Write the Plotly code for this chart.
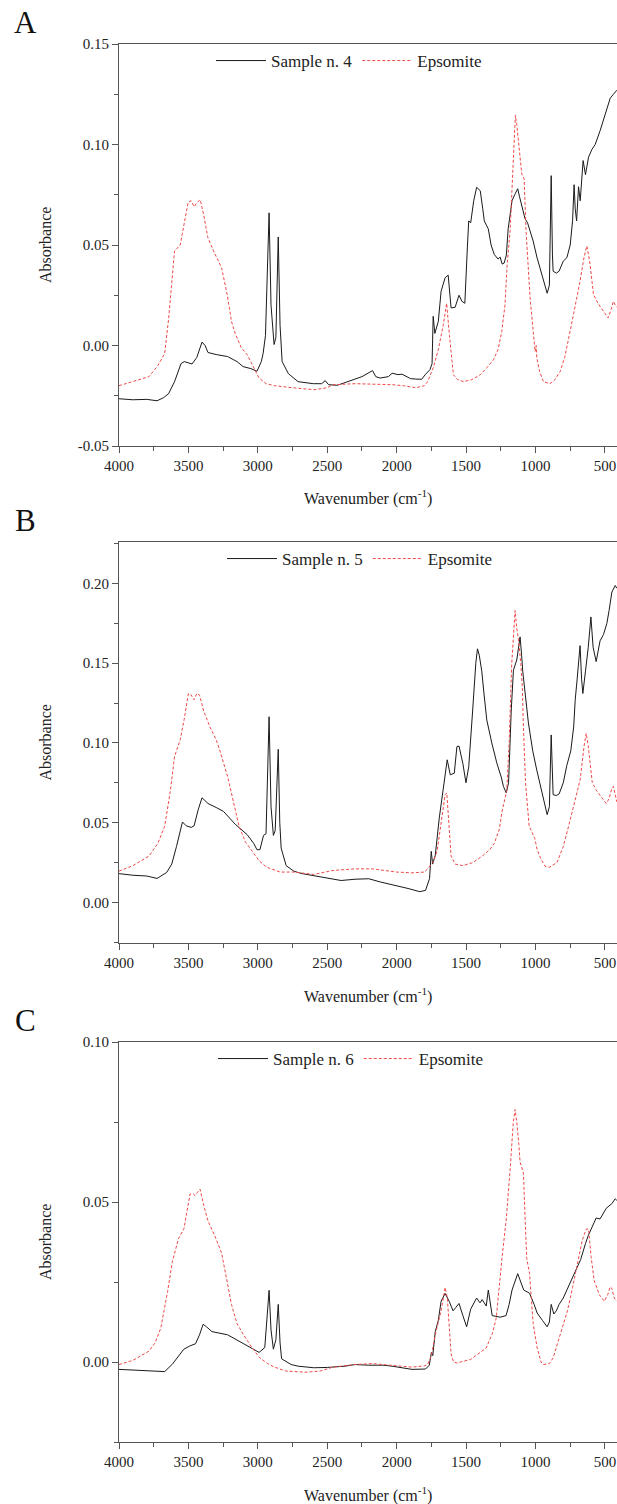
import plotly.graph_objects as go
from plotly.subplots import make_subplots

# ---- Panel A: Sample n. 4 vs Epsomite ----
wn_a_sample = [4000, 3900, 3800, 3726, 3680, 3643, 3600, 3553, 3530, 3474, 3440, 3402, 3380, 3359,
               3300, 3218, 3150, 3106, 3050, 3006, 2975, 2962, 2945, 2930, 2919, 2905, 2883, 2870,
               2860, 2853, 2840, 2825, 2780, 2710, 2600, 2540, 2515, 2490, 2428, 2350, 2250, 2174,
               2150, 2119, 2060, 2033, 1990, 1961, 1900, 1862, 1820, 1792, 1760, 1745, 1737, 1725,
               1700, 1680, 1651, 1629, 1608, 1579, 1551, 1530, 1509, 1490, 1481, 1467, 1445, 1424,
               1398, 1380, 1369, 1340, 1320, 1297, 1270, 1255, 1240, 1226, 1210, 1197, 1169, 1150,
               1128, 1115, 1100, 1075, 1057, 1017, 990, 960, 935, 916, 900, 887, 878, 873, 850, 830,
               800, 774, 750, 733, 722, 714, 704, 690, 678, 657, 640, 618, 594, 570, 534, 498, 462,
               439, 414]
ab_a_sample = [-0.0265, -0.027, -0.0268, -0.0275, -0.026, -0.024, -0.018, -0.009, -0.008, -0.0092,
               -0.006, 0.0017, 0.0, -0.0035, -0.0045, -0.0055, -0.008, -0.0105, -0.0115, -0.0128,
               -0.008, -0.004, 0.005, 0.035, 0.066, 0.02, 0.0005, 0.004, 0.03, 0.054, 0.01, -0.008,
               -0.014, -0.018, -0.019, -0.019, -0.0175, -0.0195, -0.0198, -0.018, -0.0155, -0.0125,
               -0.0155, -0.0162, -0.0155, -0.0138, -0.0145, -0.0143, -0.0165, -0.0167, -0.0168,
               -0.0143, -0.012, -0.009, 0.0145, 0.006, 0.012, 0.027, 0.0337, 0.035, 0.0187, 0.019,
               0.025, 0.022, 0.021, 0.05, 0.062, 0.061, 0.072, 0.0787, 0.077, 0.068, 0.062, 0.058,
               0.05, 0.0453, 0.043, 0.044, 0.0405, 0.041, 0.045, 0.058, 0.072, 0.075, 0.078, 0.074,
               0.070, 0.063, 0.061, 0.052, 0.044, 0.037, 0.031, 0.026, 0.03, 0.0845, 0.045, 0.037,
               0.036, 0.037, 0.042, 0.0437, 0.05, 0.062, 0.08, 0.068, 0.062, 0.079, 0.072, 0.092,
               0.085, 0.0937, 0.0975, 0.100, 0.107, 0.115, 0.123, 0.125, 0.127]

wn_a_epso = [4000, 3900, 3784, 3720, 3671, 3642, 3600, 3559, 3530, 3502, 3480, 3459, 3440, 3415,
             3390, 3360, 3319, 3290, 3261, 3220, 3190, 3163, 3120, 3077, 3030, 2991, 2940, 2880,
             2750, 2597, 2500, 2458, 2300, 2150, 2033, 1950, 1862, 1800, 1777, 1736, 1700, 1665,
             1640, 1620, 1600, 1591, 1560, 1519, 1460, 1399, 1350, 1303, 1270, 1243, 1220, 1204,
             1183, 1159, 1145, 1135, 1124, 1110, 1099, 1082, 1068, 1039, 1020, 1003, 995, 991, 970,
             943, 895, 860, 823, 790, 751, 715, 679, 650, 630, 610, 582, 550, 522, 477, 455, 439,
             425, 414]
ab_a_epso = [-0.020, -0.018, -0.0155, -0.010, -0.004, 0.0137, 0.047, 0.05, 0.06, 0.0712, 0.072,
             0.069, 0.071, 0.0725, 0.065, 0.0537, 0.047, 0.043, 0.0387, 0.025, 0.012, 0.006,
             -0.001, -0.0045, -0.011, -0.0162, -0.019, -0.020, -0.021, -0.022, -0.021, -0.0195,
             -0.019, -0.0192, -0.0195, -0.020, -0.021, -0.020, -0.018, -0.011, -0.002, 0.010,
             0.021, 0.005, -0.008, -0.0146, -0.017, -0.018, -0.017, -0.0146, -0.011, -0.0071,
             -0.002, 0.007, 0.02, 0.0404, 0.057, 0.0987, 0.1145, 0.110, 0.102, 0.090, 0.0854,
             0.083, 0.057, 0.0237, 0.008, -0.003, 0.0, -0.006, -0.013, -0.018, -0.019, -0.017,
             -0.013, -0.006, 0.007, 0.019, 0.032, 0.044, 0.0495, 0.042, 0.0253, 0.021, 0.018,
             0.0137, 0.018, 0.022, 0.020, 0.019]

# ---- Panel B: Sample n. 5 vs Epsomite ----
wn_b_sample = [4000, 3900, 3800, 3726, 3657, 3620, 3586, 3560, 3543, 3516, 3480, 3459, 3430, 3402,
               3359, 3300, 3247, 3163, 3077, 3030, 3006, 2985, 2959, 2941, 2930, 2919, 2905, 2888,
               2875, 2862, 2853, 2842, 2832, 2796, 2740, 2681, 2600, 2512, 2400, 2300, 2201, 2119,
               2000, 1918, 1834, 1792, 1763, 1751, 1741, 1722, 1693, 1660, 1636, 1614, 1585, 1566,
               1551, 1523, 1501, 1481, 1465, 1453, 1430, 1418, 1405, 1387, 1370, 1351, 1315, 1279,
               1245, 1231, 1211, 1194, 1175, 1159, 1135, 1111, 1100, 1092, 1051, 1020, 991, 960,
               931, 916, 900, 887, 873, 850, 830, 800, 774, 746, 725, 714, 700, 679, 668, 659, 640,
               620, 601, 585, 563, 535, 510, 486, 470, 450, 426, 414]
ab_b_sample = [0.018, 0.017, 0.0165, 0.015, 0.0187, 0.024, 0.035, 0.045, 0.0504, 0.048, 0.047,
               0.048, 0.058, 0.0656, 0.062, 0.0595, 0.057, 0.049, 0.0425, 0.037, 0.033, 0.033,
               0.042, 0.043, 0.08, 0.1164, 0.06, 0.042, 0.045, 0.08, 0.096, 0.05, 0.034, 0.023,
               0.0195, 0.018, 0.0168, 0.0158, 0.0137, 0.0145, 0.0148, 0.0128, 0.0105, 0.0087,
               0.0067, 0.0075, 0.015, 0.032, 0.024, 0.0295, 0.053, 0.075, 0.0894, 0.080, 0.081,
               0.0977, 0.098, 0.087, 0.075, 0.085, 0.108, 0.12, 0.150, 0.159, 0.155, 0.145, 0.13,
               0.1144, 0.100, 0.0875, 0.078, 0.0727, 0.0687, 0.075, 0.12, 0.1456, 0.152, 0.1665,
               0.155, 0.145, 0.1125, 0.095, 0.083, 0.072, 0.060, 0.055, 0.06, 0.105, 0.0675, 0.067,
               0.068, 0.075, 0.086, 0.095, 0.11, 0.127, 0.14, 0.161, 0.14, 0.131, 0.145, 0.16,
               0.179, 0.16, 0.151, 0.164, 0.168, 0.175, 0.183, 0.1946, 0.1987, 0.197]

wn_b_epso = [4000, 3900, 3784, 3720, 3671, 3630, 3600, 3559, 3530, 3500, 3480, 3460, 3440, 3420,
             3390, 3345, 3300, 3275, 3218, 3170, 3135, 3090, 3049, 2990, 2936, 2839, 2739, 2597,
             2458, 2300, 2174, 2000, 1890, 1800, 1777, 1740, 1709, 1680, 1651, 1639, 1625, 1608,
             1579, 1523, 1450, 1384, 1330, 1297, 1260, 1240, 1207, 1190, 1171, 1147, 1135, 1123,
             1106, 1095, 1087, 1072, 1046, 1017, 1005, 988, 960, 931, 900, 845, 800, 761, 720,
             678, 650, 635, 620, 591, 560, 534, 491, 470, 452, 439, 425, 414]
ab_b_epso = [0.0196, 0.023, 0.029, 0.037, 0.0477, 0.07, 0.0915, 0.102, 0.115, 0.131, 0.13, 0.127,
             0.131, 0.13, 0.12, 0.110, 0.102, 0.0956, 0.079, 0.06, 0.0477, 0.038, 0.033, 0.026,
             0.022, 0.019, 0.019, 0.0175, 0.020, 0.021, 0.021, 0.019, 0.0185, 0.019, 0.021,
             0.025, 0.032, 0.05, 0.0675, 0.0686, 0.05, 0.029, 0.024, 0.023, 0.025, 0.029, 0.033,
             0.037, 0.046, 0.0575, 0.07, 0.1, 0.15, 0.183, 0.172, 0.165, 0.15, 0.135, 0.11,
             0.075, 0.048, 0.0425, 0.040, 0.033, 0.027, 0.0227, 0.022, 0.025, 0.035, 0.048,
             0.062, 0.077, 0.098, 0.106, 0.098, 0.075, 0.07, 0.067, 0.062, 0.065, 0.071, 0.0727,
             0.066, 0.063]

# ---- Panel C: Sample n. 6 vs Epsomite ----
wn_c_sample = [4000, 3900, 3800, 3671, 3616, 3570, 3533, 3490, 3449, 3420, 3394, 3370, 3331, 3218,
               3150, 3106, 3040, 2991, 2950, 2935, 2919, 2905, 2888, 2870, 2853, 2840, 2829, 2760,
               2710, 2597, 2500, 2372, 2300, 2201, 2100, 2033, 1950, 1890, 1792, 1765, 1750, 1740,
               1722, 1700, 1680, 1651, 1622, 1594, 1575, 1551, 1523, 1496, 1467, 1424, 1400, 1384,
               1355, 1340, 1312, 1255, 1212, 1190, 1169, 1128, 1085, 1043, 1010, 988, 950, 916, 900,
               887, 868, 850, 830, 800, 774, 718, 675, 640, 620, 563, 535, 491, 450, 426, 414]
ab_c_sample = [-0.0023, -0.0025, -0.0028, -0.003, -0.0007, 0.002, 0.004, 0.005, 0.0057, 0.0085,
               0.0118, 0.011, 0.0095, 0.0085, 0.007, 0.0058, 0.0042, 0.003, 0.0045, 0.012, 0.0224,
               0.01, 0.004, 0.007, 0.018, 0.006, 0.001, -0.0008, -0.0013, -0.0018, -0.0017,
               -0.0013, -0.0008, -0.001, -0.001, -0.0013, -0.0018, -0.0023, -0.0022, -0.001,
               0.003, 0.002, 0.0095, 0.013, 0.019, 0.0214, 0.019, 0.016, 0.017, 0.0183, 0.0145,
               0.011, 0.0165, 0.020, 0.0185, 0.0195, 0.0175, 0.0225, 0.0145, 0.014, 0.0145, 0.018,
               0.0225, 0.0276, 0.0225, 0.0215, 0.018, 0.0153, 0.013, 0.011, 0.0125, 0.018, 0.015,
               0.016, 0.018, 0.020, 0.0225, 0.028, 0.032, 0.037, 0.0395, 0.045, 0.0447, 0.048,
               0.0495, 0.051, 0.0505]

wn_c_epso = [4000, 3900, 3784, 3740, 3699, 3650, 3616, 3572, 3532, 3500, 3488, 3465, 3453, 3435,
             3416, 3390, 3359, 3303, 3261, 3225, 3190, 3150, 3106, 3050, 2991, 2930, 2880, 2800,
             2653, 2550, 2458, 2300, 2174, 2050, 1890, 1800, 1777, 1750, 1721, 1680, 1651, 1635,
             1620, 1608, 1590, 1566, 1467, 1400, 1355, 1310, 1283, 1240, 1210, 1183, 1160, 1147,
             1135, 1120, 1111, 1100, 1087, 1075, 1063, 1043, 1017, 988, 960, 945, 900, 873, 815,
             770, 733, 690, 664, 635, 618, 600, 577, 540, 505, 480, 462, 450, 433, 414]
ab_c_epso = [-0.0008, 0.0005, 0.0034, 0.006, 0.0106, 0.022, 0.0313, 0.0385, 0.0417, 0.050, 0.0525,
             0.0525, 0.052, 0.053, 0.054, 0.049, 0.0441, 0.0387, 0.034, 0.026, 0.018, 0.012,
             0.0087, 0.005, 0.0015, -0.0005, -0.0016, -0.0028, -0.0032, -0.0028, -0.0016,
             -0.0008, -0.0005, -0.001, -0.0016, -0.0012, -0.0008, 0.002, 0.0087, 0.016, 0.0233,
             0.02, 0.01, 0.0025, 0.0, -0.0003, 0.0008, 0.003, 0.0044, 0.009, 0.0137, 0.033, 0.045,
             0.06, 0.075, 0.0789, 0.075, 0.068, 0.0624, 0.061, 0.059, 0.045, 0.0323, 0.0277,
             0.012, 0.0044, 0.0, -0.0008, -0.0005, 0.0013, 0.0096, 0.016, 0.0233, 0.032, 0.0379,
             0.0415, 0.0416, 0.033, 0.0254, 0.021, 0.019, 0.021, 0.0235, 0.023, 0.020, 0.019]

sample_names = ["Sample n. 4", "Sample n. 5", "Sample n. 6"]
panel_letters = ["A", "B", "C"]
x_tickvals = [4000, 3500, 3000, 2500, 2000, 1500, 1000, 500]
x_ticktext = ["4000", "3500", "3000", "2500", "2000", "1500", "1000", "500"]
y_ticks_a = [-0.05, 0.0, 0.05, 0.10, 0.15]
y_ticks_b = [0.0, 0.05, 0.10, 0.15, 0.20]
y_ticks_c = [0.0, 0.05, 0.10]

W, H = 617, 1504
FONT = "Liberation Serif"
AXIS_COL = "#555555"


def py(pixel_y):
    # pixel row -> paper coordinate
    return 1 - pixel_y / H


panels = [
    dict(wn_s=wn_a_sample, ab_s=ab_a_sample, wn_e=wn_a_epso, ab_e=ab_a_epso,
         yr=[-0.05, 0.15], yt=y_ticks_a, top=44, bot=446, leg_x=211),
    dict(wn_s=wn_b_sample, ab_s=ab_b_sample, wn_e=wn_b_epso, ab_e=ab_b_epso,
         yr=[-0.0255, 0.226], yt=y_ticks_b, top=542, bot=943, leg_x=222),
    dict(wn_s=wn_c_sample, ab_s=ab_c_sample, wn_e=wn_c_epso, ab_e=ab_c_epso,
         yr=[-0.025, 0.10], yt=y_ticks_c, top=1042, bot=1442, leg_x=213),
]

fig = make_subplots(rows=3, cols=1)
annotations = []
legend_style = dict(orientation="h", xanchor="left", yanchor="middle", bgcolor="rgba(0,0,0,0)",
                    font=dict(family=FONT, size=17, color="#222"), itemwidth=50,
                    tracegroupgap=0)
legends = {}

for i, p in enumerate(panels):
    r = i + 1
    leg = "legend" if i == 0 else "legend%d" % r
    legends[leg] = dict(legend_style, x=(p["leg_x"] - 119) / 498, y=py(p["top"] + 17))
    fig.add_trace(
        go.Scatter(x=p["wn_s"], y=p["ab_s"], mode="lines", name=sample_names[i],
                   line=dict(color="#1a1a1a", width=1), legend=leg),
        row=r, col=1,
    )
    fig.add_trace(
        go.Scatter(x=p["wn_e"], y=p["ab_e"], mode="lines", name="Epsomite",
                   line=dict(color="#f04848", width=1, dash="3px,2px"), legend=leg),
        row=r, col=1,
    )

    fig.update_xaxes(
        range=[4000, 413], tickmode="array", tickvals=x_tickvals, ticktext=x_ticktext,
        ticks="outside", ticklen=6, tickcolor=AXIS_COL, showline=True, linecolor=AXIS_COL,
        linewidth=1, mirror=True, showgrid=False, zeroline=False, automargin=False,
        tickfont=dict(family=FONT, size=15, color="#222"),
        minor=dict(ticks="outside", ticklen=4, dtick=250, tick0=0, tickcolor=AXIS_COL),
        domain=[0, 1], row=r, col=1,
    )
    fig.update_yaxes(
        range=p["yr"], tickmode="array", tickvals=p["yt"],
        ticktext=["%.2f" % v for v in p["yt"]],
        ticks="outside", ticklen=6, tickcolor=AXIS_COL, showline=True, linecolor=AXIS_COL,
        linewidth=1, mirror=False, showgrid=False, zeroline=False, automargin=False,
        tickfont=dict(family=FONT, size=15, color="#222"),
        minor=dict(ticks="outside", ticklen=4, dtick=0.025, tick0=0, tickcolor=AXIS_COL),
        domain=[py(p["bot"]), py(p["top"])],
        row=r, col=1,
    )

    annotations.append(dict(text=panel_letters[i], xref="paper", yref="paper",
                            x=(25 - 119) / 498, y=py(p["top"] - 22),
                            showarrow=False, xanchor="center", yanchor="middle",
                            font=dict(family=FONT, size=31, color="#111")))
    annotations.append(dict(text="Absorbance", xref="paper", yref="paper",
                            x=(45 - 119) / 498, y=py((p["top"] + p["bot"]) / 2),
                            textangle=-90, showarrow=False, xanchor="center", yanchor="middle",
                            font=dict(family=FONT, size=16, color="#222")))
    annotations.append(dict(text="Wavenumber (cm<sup>-1</sup>)", xref="paper", yref="paper",
                            x=0.5, y=py(p["bot"] + 52), showarrow=False,
                            xanchor="center", yanchor="middle",
                            font=dict(family=FONT, size=16, color="#222")))

fig.update_layout(
    width=W, height=H,
    margin=dict(l=119, r=0, t=0, b=0),
    paper_bgcolor="white", plot_bgcolor="white",
    showlegend=True,
    annotations=annotations,
    **legends,
)

# page body has an 8px default margin; drop it so the figure sits at the top-left corner
fig.write_html("out.html", config={"displayModeBar": False},
               post_script="document.body.style.margin='0';document.body.style.overflow='hidden';")
